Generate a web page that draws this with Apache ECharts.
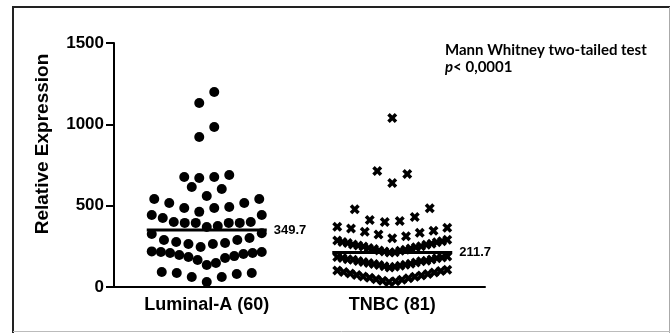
<!DOCTYPE html>
<html>
<head>
<meta charset="utf-8">
<script src="https://cdn.jsdelivr.net/npm/echarts@6/dist/echarts.min.js"></script>
<style>
html,body{margin:0;padding:0;background:#fff;}
#chart{width:670px;height:333px;}
</style>
</head>
<body>
<div id="chart"></div>
<script>
// ---- data ----
const categories = ['Luminal-A (60)', 'TNBC (81)'];
const yTickValues = [0, 500, 1000, 1500];

const luminalA = [
  1199, 1131, 984, 922,
  676, 670, 676, 689,
  602, 615, 559,
  541, 516, 486, 462, 486, 492, 516, 541,
  443, 400, 394, 394, 375, 369.4, 394, 394, 400, 424, 443,
  326, 289, 277, 264, 246, 264, 271, 289, 301, 330,
  215, 209, 203, 190, 178, 148, 135, 166, 184, 197, 209, 215, 219,
  92, 86, 61, 61, 80, 86,
  31
];

const tnbc = [
  1039, 695, 639, 713,
  400, 406, 412, 430, 478, 484,
  300, 312, 322, 333, 340, 346, 360, 364, 370,
  211.7, 214, 218, 223, 225, 229, 234, 236, 240, 245, 249, 251, 255, 260, 262, 266, 270, 275, 277, 281, 286, 291,
  120, 125, 127, 130, 135, 137, 142, 143, 148, 150, 153, 158, 160, 162, 167, 169, 171, 176, 178, 182, 184, 188,
  31, 36, 39, 45, 48, 54, 57, 63, 65, 71, 74, 80, 83, 89, 92, 98, 101, 106
];

// ---- layout constants ----
const FONT = "'Liberation Sans', Arial, Helvetica, sans-serif";
const GRID = {left: 114, right: 185, top: 43, bottom: 46};
const PLOT_W = 670 - GRID.left - GRID.right;
const PX_PER_UNIT = PLOT_W / 2;   // hidden value x-axis spans 0..2
const ROW_SPAN = 85;               // value span grouped into one row
const MAX_STEP = 15, MAX_ROW_W = 110;

function median(arr) {
  const s = arr.slice().sort((a, b) => a - b);
  const n = s.length;
  return n % 2 ? s[(n - 1) / 2] : (s[n / 2 - 1] + s[n / 2]) / 2;
}

function swarm(values, center) {
  const sorted = values.slice().sort((a, b) => a - b);
  const rows = [];
  let cur = null;
  sorted.forEach(v => {
    if (!cur || v - cur[0] > ROW_SPAN) { cur = []; rows.push(cur); }
    cur.push(v);
  });
  const pts = [];
  rows.forEach(row => {
    const n = row.length;
    const step = Math.min(MAX_STEP, MAX_ROW_W / Math.max(n - 1, 1));
    row.forEach((v, i) => {
      let k;
      if (n % 2) k = i === 0 ? 0 : (i % 2 ? (i + 1) / 2 : -i / 2);
      else k = (i % 2 ? 1 : -1) * (Math.floor(i / 2) + 0.5);
      pts.push([center + k * step / PX_PER_UNIT, v]);
    });
  });
  return pts;
}

const xPath = 'path://M2.5,0L5,2.5L7.5,0L10,2.5L7.5,5L10,7.5L7.5,10L5,7.5L2.5,10L0,7.5L2.5,5L0,2.5Z';
const halfLine = 60 / PX_PER_UNIT;

function medianSeries(values, center) {
  const m = median(values);
  return {
    type: 'line', xAxisIndex: 1, yAxisIndex: 0,
    data: [[center - halfLine, m], [center + halfLine, m]],
    symbol: 'none', silent: true, z: 5,
    lineStyle: {color: '#000', width: 3},
    endLabel: {show: true, formatter: () => m.toFixed(1), distance: 7,
      color: '#000', fontFamily: FONT, fontWeight: 'bold', fontSize: 13}
  };
}

const chart = echarts.init(document.getElementById('chart'), null, {renderer: 'canvas'});
chart.setOption({
  animation: false,
  backgroundColor: '#fff',
  grid: GRID,
  xAxis: [{
    type: 'category', data: categories, boundaryGap: true,
    axisLine: {lineStyle: {color: '#000', width: 2}},
    axisTick: {alignWithLabel: true, length: 7, lineStyle: {color: '#000', width: 2}},
    axisLabel: {color: '#000', fontFamily: FONT, fontWeight: 'bold', fontSize: 18, margin: 9},
    splitLine: {show: false}
  }, {
    type: 'value', min: 0, max: 2, show: false
  }],
  yAxis: [{
    type: 'value', min: yTickValues[0], max: yTickValues[yTickValues.length - 1],
    interval: yTickValues[1] - yTickValues[0],
    axisLine: {show: true, lineStyle: {color: '#000', width: 2}},
    axisTick: {show: true, length: 8, lineStyle: {color: '#000', width: 2}},
    axisLabel: {color: '#000', fontFamily: FONT, fontWeight: 'bold', fontSize: 17, margin: 10,
      formatter: v => String(v)},
    splitLine: {show: false}
  }],
  series: [
    {type: 'scatter', xAxisIndex: 1, data: swarm(luminalA, 0.5), symbol: 'circle', symbolSize: 10,
     itemStyle: {color: '#000', opacity: 1}, silent: true},
    {type: 'scatter', xAxisIndex: 1, data: swarm(tnbc, 1.5), symbol: xPath, symbolSize: 10,
     itemStyle: {color: '#000', opacity: 1}, silent: true},
    medianSeries(luminalA, 0.5),
    medianSeries(tnbc, 1.5)
  ],
  graphic: [
    {type: 'line', shape: {x1: 13, y1: 7, x2: 670, y2: 7}, style: {stroke: '#222', lineWidth: 2}},
    {type: 'line', shape: {x1: 13, y1: 6, x2: 13, y2: 333}, style: {stroke: '#222', lineWidth: 2}},
    {type: 'line', shape: {x1: 669.5, y1: 7, x2: 669.5, y2: 333}, style: {stroke: '#aaa', lineWidth: 1}},
    {type: 'line', shape: {x1: 13, y1: 331.5, x2: 670, y2: 331.5}, style: {stroke: '#bbb', lineWidth: 1}},
    {type: 'text', x: 43, y: 144, rotation: Math.PI / 2,
     style: {text: 'Relative Expression', x: 0, y: 0, align: 'center', verticalAlign: 'middle',
       fill: '#000', font: 'bold 19px ' + FONT}},
    {type: 'text', x: 445, y: 50,
     style: {text: 'Mann Whitney two-tailed test', align: 'left', verticalAlign: 'middle',
       fill: '#000', font: 'bold 15px Lato, "Open Sans", sans-serif'}},
    {type: 'text', x: 445, y: 67,
     style: {text: '{i|p}{n|< 0,0001}', align: 'left', verticalAlign: 'middle',
       rich: {
         i: {fill: '#000', fontFamily: 'Lato, sans-serif', fontWeight: 'bold', fontStyle: 'italic', fontSize: 15},
         n: {fill: '#000', fontFamily: 'Lato, sans-serif', fontWeight: 'bold', fontSize: 15}
       }}}
  ]
});
</script>
</body>
</html>
